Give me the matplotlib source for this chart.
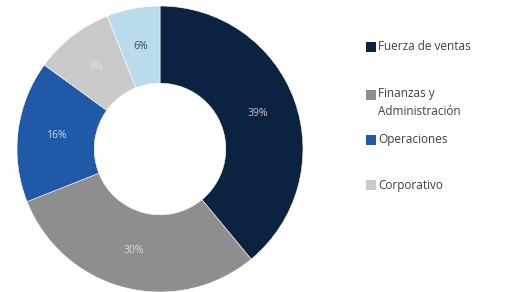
import matplotlib.pyplot as plt
from matplotlib.patches import Rectangle

labels = ["Fuerza de ventas", "Finanzas y\nAdministración", "Operaciones", "Corporativo", ""]
values = [39, 30, 16, 9, 6]
colors = ["#0b2340", "#8e8e8e", "#1f59a8", "#c9c9c9", "#b9dbeb"]
text_colors = ["#c8c8c8", "#dcdcdc", "#d0d8e8", "#e6e6e6", "#3a4a5a"]
legend_y = [47, 102, 140, 185]

W, H = 512, 292
fig = plt.figure(figsize=(W / 100, H / 100), dpi=100)
plt.rcParams['font.family'] = ['Open Sans', 'DejaVu Sans']

# pie axes in pixel coordinates: centre (160,148), radius 143
cx, cy, r = 160, 149, 143
ax = fig.add_axes([(cx - r) / W, (H - cy - r) / H, 2 * r / W, 2 * r / H])
wedges, texts, autotexts = ax.pie(values, colors=colors, startangle=90, counterclock=False,
                                  autopct="%d%%", pctdistance=0.73,
                                  wedgeprops=dict(width=0.54, edgecolor="white", linewidth=0.4),
                                  textprops=dict(fontsize=7.5))
for t, c in zip(autotexts, text_colors):
    t.set_color(c)
ax.set_xlim(-1, 1)
ax.set_ylim(-1, 1)
ax.set_aspect("equal")

# legend drawn by hand (only four entries)
for lab, col, y in zip(labels[:4], colors[:4], legend_y):
    first_line_y = y if "\n" not in lab else y - 7
    fig.patches.append(Rectangle((366 / W, 1 - (first_line_y + 5) / H), 10 / W, 10 / H,
                                 transform=fig.transFigure, facecolor=col, edgecolor="none"))
    fig.text(378 / W, 1 - y / H, lab, fontsize=8.5, color="#404040", va="center", ha="left",
             linespacing=1.5)

fig.savefig("out.png", dpi=100, facecolor="white")
